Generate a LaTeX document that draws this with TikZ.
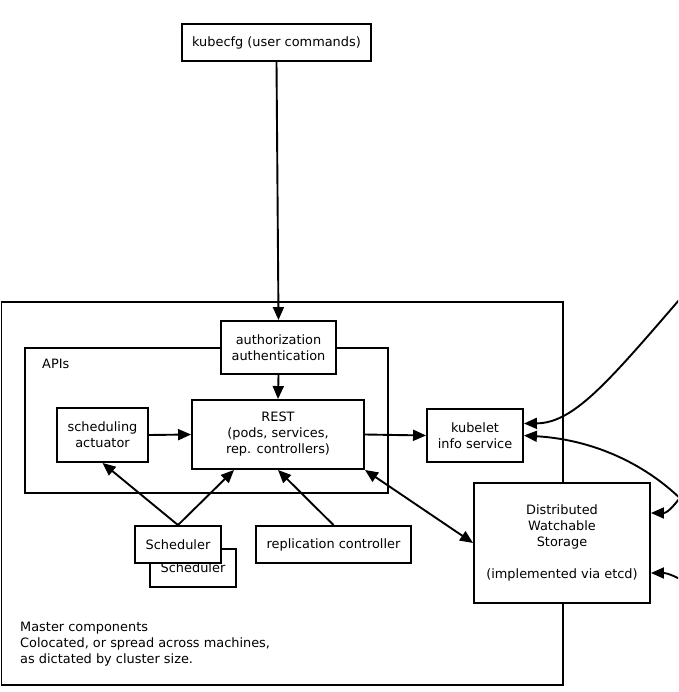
\documentclass[tikz,border=0pt]{standalone}
\usepackage{fontspec}
\setmainfont{DejaVu Sans}
\usetikzlibrary{arrows.meta,calc}
\begin{document}
\begin{tikzpicture}[x=1pt,y=-1pt,
  every node/.style={font=\fontsize{12.9}{16}\selectfont},
  box/.style={draw,line width=1.9pt,fill=white,inner sep=0pt,align=center},
  frame/.style={draw,line width=1.9pt},
  arr/.style={line width=1.9pt,-{Triangle[length=13pt,width=11pt]}},
  darr/.style={line width=1.9pt,{Triangle[length=13pt,width=11pt]}-{Triangle[length=13pt,width=11pt]}}]
\useasboundingbox (0,0) rectangle (678,692);
\clip (0,0) rectangle (678,692);
\fill[white] (0,0) rectangle (678,692);
% frames
\draw[frame] (1.5,302) rectangle (563,685);
\draw[frame] (25,348) rectangle (388,493);
\node[anchor=west,inner sep=0pt] (apis) at (42,364) {APIs};
\node[anchor=north west,inner sep=0pt,align=left] (master) at (20,621.5)
  {Master components\\Colocated, or spread across machines,\\as dictated by cluster size.};
% nodes
\node[box,minimum width=189pt,minimum height=37pt] (kubecfg) at (276.5,42.5) {kubecfg (user commands)};
\node[box,minimum width=115pt,minimum height=53pt] (auth) at (278.5,347.5) {authorization\\authentication};
\node[box,minimum width=172pt,minimum height=69pt] (rest) at (278,434.5) {REST\\(pods, services,\\rep. controllers)};
\node[box,minimum width=91pt,minimum height=54pt] (sact) at (102.5,435) {scheduling\\actuator};
\node[box,minimum width=96pt,minimum height=53pt] (kubelet) at (475,435.5) {kubelet\\info service};
\node[box,minimum width=176pt,minimum height=120pt] (storage) at (562,543) {Distributed\\Watchable\\Storage\\ \\(implemented via etcd)};
\node[box,minimum width=86pt,minimum height=38pt] (sched2) at (193,568) {Scheduler};
\node[box,minimum width=86pt,minimum height=37pt] (sched1) at (178,544.5) {Scheduler};
\node[box,minimum width=155pt,minimum height=37pt] (repl) at (333.5,544.5) {replication controller};
% off-picture ends
\coordinate (o1) at (692,285);
\coordinate (o2) at (700,520);
\coordinate (o3) at (692,482);
\coordinate (o4) at (695,588);
% connectors
\draw[arr] (kubecfg.south) -- (auth.north);
\draw[arr] (auth.south) -- (rest.north);
\draw[arr] (sact.east) -- (rest.west);
\draw[arr] (rest.east) -- (kubelet.west);
\draw[arr] (sched1.north) -- (sact.south);
\draw[arr] (sched1.north) -- ([xshift=-44pt]rest.south);
\draw[arr] (repl.north) -- (rest.south);
\draw[darr] (rest.south east) -- (storage.west);
\draw[arr] (o1) .. controls (610,380) and (575,423) .. ([yshift=12pt]kubelet.east);
\draw[arr] (o2) .. controls (660,470) and (600,440) .. (kubelet.east);
\draw[arr] (o3) .. controls (675,505) and (668,513) .. ([yshift=30pt]storage.east);
\draw[arr] (o4) .. controls (680,578) and (668,573) .. ([yshift=-30pt]storage.east);
\end{tikzpicture}
\end{document}
